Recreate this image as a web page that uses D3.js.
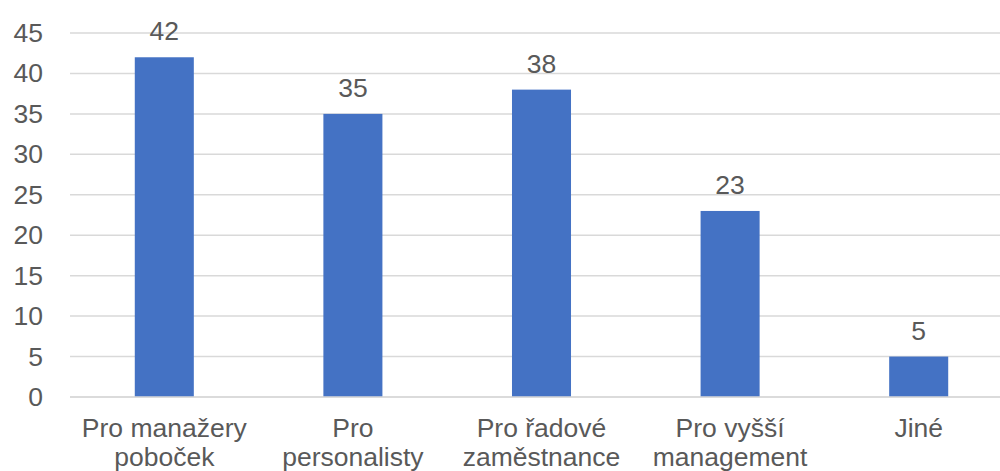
<!DOCTYPE html>
<html>
<head>
<meta charset="utf-8">
<script src="https://cdn.jsdelivr.net/npm/d3@7"></script>
<style>
  html, body { margin: 0; padding: 0; background: #ffffff; }
  svg { display: block; }
  text { font-family: "Liberation Sans", Arial, sans-serif; fill: #595959; }
</style>
</head>
<body>
<svg id="chart" width="1000" height="471"></svg>
<script>
// Category labels (each split into two display lines)
const categories = [
  ["Pro manažery", "poboček"],
  ["Pro", "personalisty"],
  ["Pro řadové", "zaměstnance"],
  ["Pro vyšší", "management"],
  ["Jiné"]
];
const values = [42, 35, 38, 23, 5];
const yTicks = [0, 5, 10, 15, 20, 25, 30, 35, 40, 45];

const svg = d3.select("#chart");
const plot = { left: 70, right: 1013, top: 33, bottom: 397 };

const keys = categories.map(c => c.join(" "));

const x = d3.scaleBand()
  .domain(keys)
  .range([plot.left, plot.right])
  .paddingInner(0.687)
  .paddingOuter(0.3435);

const y = d3.scaleLinear()
  .domain([0, 45])
  .range([plot.bottom, plot.top]);

// Horizontal gridlines
svg.append("g")
  .selectAll("line")
  .data(yTicks)
  .join("line")
  .attr("x1", plot.left)
  .attr("x2", plot.right)
  .attr("y1", d => y(d))
  .attr("y2", d => y(d))
  .attr("stroke", "#d9d9d9")
  .attr("stroke-width", 1.5);

// Y axis labels
const yAxis = d3.axisLeft(y).tickValues(yTicks).tickSize(0).tickPadding(0);
const yg = svg.append("g")
  .attr("transform", `translate(${plot.left - 27},0)`)
  .call(yAxis);
yg.select(".domain").remove();
yg.selectAll("text")
  .attr("font-size", 26.5)
  .attr("fill", "#595959")
  .style("font-family", '"Liberation Sans", Arial, sans-serif');

// Bars
svg.append("g")
  .selectAll("rect")
  .data(values)
  .join("rect")
  .attr("x", (d, i) => x(keys[i]))
  .attr("width", x.bandwidth())
  .attr("y", d => y(d))
  .attr("height", d => y(0) - y(d))
  .attr("fill", "#4472c4");

// Zero line drawn above the bars
svg.append("line")
  .attr("x1", plot.left)
  .attr("x2", plot.right)
  .attr("y1", y(0))
  .attr("y2", y(0))
  .attr("stroke", "#d9d9d9")
  .attr("stroke-width", 1.5);

// Value labels
svg.append("g")
  .selectAll("text")
  .data(values)
  .join("text")
  .attr("x", (d, i) => x(keys[i]) + x.bandwidth() / 2)
  .attr("y", d => y(d) - 17)
  .attr("text-anchor", "middle")
  .attr("font-size", 26.5)
  .text(d => d);

// Category labels
const cat = svg.append("g")
  .selectAll("text")
  .data(categories)
  .join("text")
  .attr("x", (d, i) => x(keys[i]) + x.bandwidth() / 2)
  .attr("y", 437)
  .attr("text-anchor", "middle")
  .attr("font-size", 26.5);
cat.selectAll("tspan")
  .data(d => d)
  .join("tspan")
  .attr("x", function () { return d3.select(this.parentNode).attr("x"); })
  .attr("dy", (d, i) => i === 0 ? 0 : 29)
  .text(d => d);
</script>
</body>
</html>
